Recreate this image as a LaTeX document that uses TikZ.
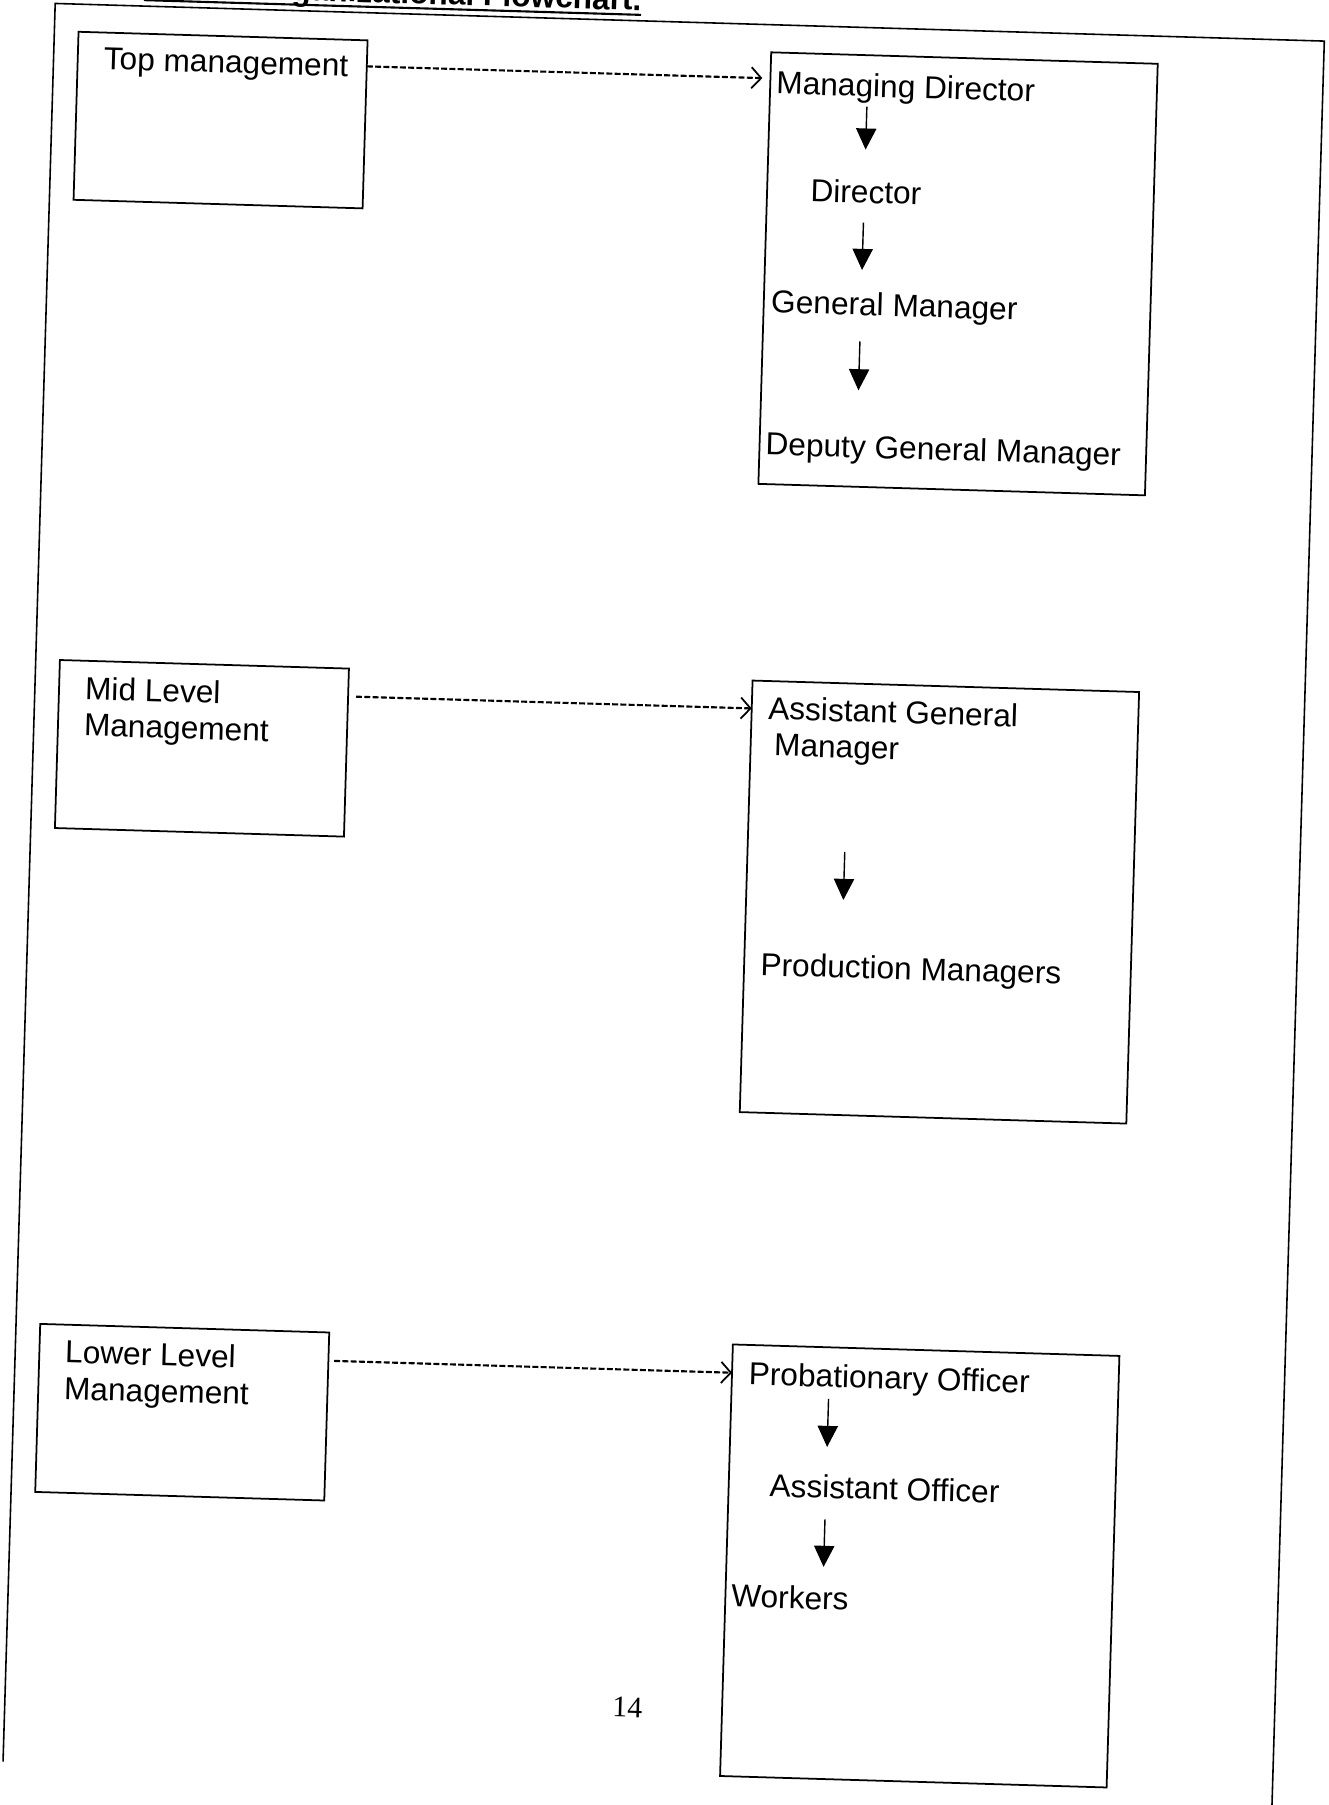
\documentclass[tikz,border=0pt]{standalone}
\usepackage{fontspec}
\setmainfont{Liberation Sans}
\newfontfamily\pagenumfont{Liberation Serif}
\usetikzlibrary{arrows.meta}

% two lines, baseline on the first one
\newcommand{\twolines}[2]{\begin{tabular}[t]{@{}l@{}}#1\\#2\end{tabular}}

\tikzset{
  lbl/.style={inner sep=0pt, outer sep=0pt, anchor=base west, transform shape,
    font=\fontsize{18}{20.7}\selectfont},
  levelbox/.style={draw, line width=1pt, inner sep=0pt, outer sep=0pt, anchor=north west,
    transform shape, minimum width=5.78cm, minimum height=3.36cm},
  postbox/.style={levelbox, minimum width=7.73cm, minimum height=8.63cm},
  link/.style={line width=1.2pt, dash pattern=on 3.4pt off 1.3pt,
    -{Straight Barb[length=5.5pt,width=12pt,line width=1pt]}},
  down/.style={line width=0.8pt, -{Triangle[length=12pt,width=11.5pt]}},
}

\begin{document}
\begin{tikzpicture}[x=0.023016cm, y=-0.023016cm]
    \useasboundingbox (0,0) rectangle (1154,1568);
    \clip (0,0) rectangle (1154,1568);

    % the whole scanned page sits a little askew
    \begin{scope}[rotate around={-1.7:(577,784)}]
    % page frame
    \draw[line width=0.9pt] (25,1547) -- (25,19) -- (1128,19) -- (1128,1650);

    % heading, cut off by the top of the scan
    \node[lbl, anchor=base east, font=\fontsize{18}{20.7}\selectfont\bfseries] (title) at (534,10) {ganizational Flowchart.};
    \draw[line width=1.2pt] ([yshift=-2.5pt]title.base east) -- ++(-432,0);

    % boxes
    \node[levelbox] (topbox) at (46,43) {};
    \node[postbox] (mdbox) at (648,43) {};
    \node[levelbox] (midbox) at (46,589) {};
    \node[postbox] (agmbox) at (648,589) {};
    \node[levelbox] (lowbox) at (46,1166) {};
    \node[postbox] (pobox) at (648,1166) {};

    % levels
    \node[lbl] (toplbl) at (68.7,75) {Top management};
    \node[lbl] (midlbl) at (68.7,622.6) {\twolines{Mid Level}{Management}};
    \node[lbl] (lowlbl) at (68.5,1199.2) {\twolines{Lower Level}{Management}};

    % posts
    \node[lbl] (md) at (653.4,79) {Managing Director};
    \node[lbl] (dir) at (685.8,171.5) {Director};
    \node[lbl] (gm) at (654.5,269) {General Manager};
    \node[lbl] (dgm) at (653.3,392.8) {Deputy General Manager};
    \node[lbl] (agm) at (662.4,622.3) {\twolines{Assistant General}{\hspace*{4pt}Manager}};
    \node[lbl] (pm) at (662.3,844.8) {Production Managers};
    \node[lbl] (po) at (662.7,1200.5) {Probationary Officer};
    \node[lbl] (ao) at (683.6,1297) {Assistant Officer};
    \node[lbl] (wk) at (653.2,1393.9) {Workers};

    \node[lbl, anchor=center, font=\pagenumfont\fontsize{17}{20}\selectfont] (pagenum) at (565.8,1484) {14};

    % level -> posts
    \draw[link, shorten >=4.6pt] ([yshift=3.5pt]topbox.east |- toplbl.mid) -- ([yshift=3.5pt]mdbox.west |- toplbl.mid);
    \draw[link, shorten <=4.5pt] ([yshift=3.5pt]midbox.east |- midlbl.mid) -- ([yshift=3.5pt]agmbox.west |- midlbl.mid);
    \draw[link, shorten <=3.3pt] ([yshift=3pt]lowbox.east |- lowlbl.mid) -- ([yshift=3pt]pobox.west |- lowlbl.mid);

    % chain inside each box
    \coordinate (axis) at (732.5,0);
    \draw[down, shorten <=2pt, shorten >=17.4pt] (md.south -| axis) -- (dir.north -| axis);
    \draw[down, shorten <=11pt, shorten >=12.7pt] (dir.south -| axis) -- (gm.north -| axis);
    \draw[down, shorten <=11.2pt, shorten >=25.3pt] (gm.south -| axis) -- (dgm.north -| axis);
    \draw[down, shorten <=47.1pt, shorten >=31.2pt] (agm.south -| axis) -- (pm.north -| axis);
    \draw[down, shorten <=3pt, shorten >=16pt] (po.south -| axis) -- (ao.north -| axis);
    \draw[down, shorten <=12pt, shorten >=11.2pt] (ao.south -| axis) -- (wk.north -| axis);
    \end{scope}
\end{tikzpicture}
\end{document}
